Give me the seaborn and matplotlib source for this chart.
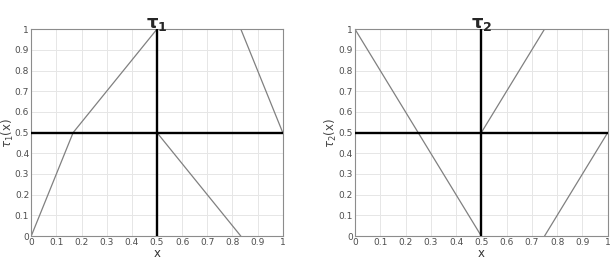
import numpy as np
import pandas as pd
import matplotlib
matplotlib.use("Agg")
import matplotlib.pyplot as plt
import seaborn as sns

# tau_1 segments
t1_seg = [0, 0, 0, 1, 1, 2, 2]
t1_x = [0, 1/6, 0.5, 0.5, 5/6, 5/6, 1]
t1_y = [0, 0.5, 1, 0.5, 0, 1, 0.5]
# tau_2 segments
t2_seg = [0, 0, 0, 1, 1, 2, 2]
t2_x = [0, 0.25, 0.5, 0.5, 0.75, 0.75, 1]
t2_y = [1, 0.5, 0, 0.5, 1, 0, 0.5]

ticks = [0, 0.1, 0.2, 0.3, 0.4, 0.5, 0.6, 0.7, 0.8, 0.9, 1]
tick_labels = ["0", "0.1", "0.2", "0.3", "0.4", "0.5", "0.6", "0.7", "0.8", "0.9", "1"]

sns.set_style("white")
plt.rcParams['font.family'] = ['DejaVu Sans']
plt.rcParams['mathtext.fontset'] = 'dejavusans'

fig = plt.figure(figsize=(6.12, 2.6), dpi=100)
axes = [fig.add_axes([0.051, 0.092, 0.411, 0.796]),
        fig.add_axes([0.580, 0.092, 0.413, 0.796])]

specs = [(t1_seg, t1_x, t1_y, r'$\mathbf{\tau}_\mathbf{1}$', r'$\tau_1(\mathrm{x})$'),
         (t2_seg, t2_x, t2_y, r'$\mathbf{\tau}_\mathbf{2}$', r'$\tau_2(\mathrm{x})$')]

for ax, (seg, xs, ys, title, ylab) in zip(axes, specs):
    df = pd.DataFrame({"seg": seg, "x": xs, "y": ys})
    sns.lineplot(data=df, x="x", y="y", units="seg", estimator=None, sort=False,
                 color="#808080", linewidth=0.9, ax=ax)
    ax.axvline(0.5, color="black", linewidth=1.7, zorder=5)
    ax.axhline(0.5, color="black", linewidth=1.7, zorder=5)
    ax.set_xlim(0, 1)
    ax.set_ylim(0, 1)
    ax.set_xticks(ticks)
    ax.set_yticks(ticks)
    ax.set_xticklabels(tick_labels)
    ax.set_yticklabels(tick_labels)
    ax.tick_params(labelsize=6.5, colors="#4d4d4d", length=2, direction="in", pad=1.5)
    ax.grid(True, color="#e6e6e6", linewidth=0.7)
    for s in ax.spines.values():
        s.set_color("#8c8c8c")
        s.set_linewidth(0.8)
    ax.set_title(title, fontsize=13, pad=1)
    ax.set_xlabel("x", fontsize=8.5, color="#333333", labelpad=0)
    ax.set_ylabel(ylab, fontsize=8.5, color="#444444")
    ax.yaxis.set_label_coords(-0.062, 0.5)

fig.savefig("out.png", dpi=100)
